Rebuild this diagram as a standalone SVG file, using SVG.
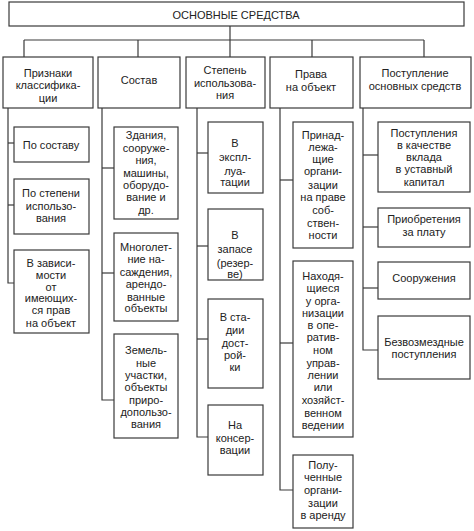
<svg xmlns="http://www.w3.org/2000/svg" width="474" height="531" viewBox="0 0 474 531">
<style>
rect{fill:#fff;stroke:#3a3a3a;stroke-width:1.2}
.c line,.c polyline{stroke:#3a3a3a;stroke-width:1.2;fill:none}
text{font-family:"Liberation Sans",Arial,sans-serif;font-size:11px;fill:#222;text-anchor:middle}
</style>
<rect x="0" y="0" width="474" height="531" style="fill:#fff;stroke:none"/>
<g class="c" id="connectors">
<line x1="230" y1="26" x2="230" y2="40"/>
<line x1="24" y1="40" x2="424" y2="40"/>
<line x1="24" y1="40" x2="24" y2="57"/>
<line x1="138" y1="40" x2="138" y2="57"/>
<line x1="230" y1="40" x2="230" y2="57"/>
<line x1="312" y1="40" x2="312" y2="57"/>
<line x1="424" y1="40" x2="424" y2="57"/>
<polyline points="8,108 8,283 14,283"/>
<line x1="8" y1="143" x2="14" y2="143"/>
<line x1="8" y1="205" x2="14" y2="205"/>
<polyline points="102,108 102,400 114,400"/>
<line x1="102" y1="168" x2="114" y2="168"/>
<line x1="102" y1="273" x2="114" y2="273"/>
<polyline points="197,108 197,437 208,437"/>
<line x1="197" y1="153" x2="208" y2="153"/>
<line x1="197" y1="246" x2="208" y2="246"/>
<line x1="197" y1="339" x2="208" y2="339"/>
<polyline points="280,108 280,490 293,490"/>
<line x1="280" y1="180" x2="293" y2="180"/>
<line x1="280" y1="343" x2="293" y2="343"/>
<polyline points="363,108 363,350 378,350"/>
<line x1="363" y1="155" x2="378" y2="155"/>
<line x1="363" y1="227" x2="378" y2="227"/>
<line x1="363" y1="288" x2="378" y2="288"/>
</g>
<g id="root"><rect x="9" y="2" width="455" height="24"/><text x="236" y="19">ОСНОВНЫЕ СРЕДСТВА</text></g>
<g id="c1"><rect x="3" y="57" width="90" height="51"/><text x="48" y="77">Признаки</text><text x="48" y="89">классифика-</text><text x="48" y="102">ции</text></g>
<g id="c2"><rect x="98" y="57" width="82" height="51"/><text x="139" y="84">Состав</text></g>
<g id="c3"><rect x="186" y="57" width="79" height="51"/><text x="225" y="74">Степень</text><text x="225" y="87">использова-</text><text x="225" y="99">ния</text></g>
<g id="c4"><rect x="270" y="57" width="83" height="51"/><text x="311" y="78">Права</text><text x="311" y="91">на объект</text></g>
<g id="c5"><rect x="360" y="57" width="111" height="51"/><text x="415" y="77">Поступление</text><text x="415" y="90">основных средств</text></g>

<g id="c1a"><rect x="14" y="127" width="75" height="35"/><text x="51" y="149">По составу</text></g>
<g id="c1b"><rect x="14" y="179" width="75" height="55"/><text x="51" y="197">По степени</text><text x="51" y="210">использо-</text><text x="51" y="222">вания</text></g>
<g id="c1c"><rect x="14" y="250" width="75" height="83"/><text x="51" y="267">В зависи-</text><text x="51" y="279">мости</text><text x="51" y="291">от</text><text x="51" y="302">имеющих-</text><text x="51" y="314">ся прав</text><text x="51" y="327">на объект</text></g>

<g id="c2a"><rect x="114" y="127" width="64" height="92"/><text x="146" y="139">Здания,</text><text x="146" y="152">сооруже-</text><text x="146" y="164">ния,</text><text x="146" y="177">машины,</text><text x="146" y="189">оборудо-</text><text x="146" y="201">вание и</text><text x="146" y="214">др.</text></g>
<g id="c2b"><rect x="114" y="233" width="64" height="88"/><text x="146" y="251">Многолет-</text><text x="146" y="263">ние на-</text><text x="146" y="276">саждения,</text><text x="146" y="288">арендо-</text><text x="146" y="301">ванные</text><text x="146" y="312">объекты</text></g>
<g id="c2c"><rect x="114" y="334" width="64" height="104"/><text x="146" y="354">Земель-</text><text x="146" y="367">ные</text><text x="146" y="379">участки,</text><text x="146" y="391">объекты</text><text x="146" y="404">приро-</text><text x="146" y="416">допользо-</text><text x="146" y="428">вания</text></g>

<g id="c3a"><rect x="208" y="122" width="55" height="71"/><text x="235" y="147">В</text><text x="235" y="161">экспл-</text><text x="235" y="175">луа-</text><text x="235" y="186">тации</text></g>
<g id="c3b"><rect x="208" y="209" width="55" height="71"/><text x="235" y="239">В</text><text x="235" y="253">запасе</text><text x="235" y="267">(резер-</text><text x="235" y="278">ве)</text></g>
<g id="c3c"><rect x="208" y="299" width="55" height="89"/><text x="235" y="321">В ста-</text><text x="235" y="334">дии</text><text x="235" y="347">дост-</text><text x="235" y="359">рой-</text><text x="235" y="371">ки</text></g>
<g id="c3d"><rect x="208" y="405" width="55" height="70"/><text x="235" y="429">На</text><text x="235" y="442">консер-</text><text x="235" y="454">вации</text></g>

<g id="c4a"><rect x="293" y="122" width="60" height="126"/><text x="323" y="139">Принад-</text><text x="323" y="151">лежа-</text><text x="323" y="163">щие</text><text x="323" y="175">органи-</text><text x="323" y="189">зации</text><text x="323" y="201">на праве</text><text x="323" y="214">соб-</text><text x="323" y="227">ствен-</text><text x="323" y="239">ности</text></g>
<g id="c4b"><rect x="293" y="261" width="60" height="176"/><text x="323" y="280">Находя-</text><text x="323" y="292">щиеся</text><text x="323" y="305">у орга-</text><text x="323" y="317">низации</text><text x="323" y="329">в опе-</text><text x="323" y="341">ратив-</text><text x="323" y="354">ном</text><text x="323" y="367">управ-</text><text x="323" y="379">лении</text><text x="323" y="391">или</text><text x="323" y="404">хозяйст-</text><text x="323" y="417">венном</text><text x="323" y="429">ведении</text></g>
<g id="c4c"><rect x="293" y="455" width="60" height="73"/><text x="323" y="469">Полу-</text><text x="323" y="481">ченные</text><text x="323" y="494">органи-</text><text x="323" y="507">зации</text><text x="323" y="519">в аренду</text></g>

<g id="c5a"><rect x="378" y="122" width="92" height="70"/><text x="424" y="137">Поступления</text><text x="424" y="149">в качестве</text><text x="424" y="161">вклада</text><text x="424" y="173">в уставный</text><text x="424" y="186">капитал</text></g>
<g id="c5b"><rect x="378" y="208" width="92" height="39"/><text x="424" y="223">Приобретения</text><text x="424" y="236">за плату</text></g>
<g id="c5c"><rect x="378" y="262" width="92" height="37"/><text x="424" y="282">Сооружения</text></g>
<g id="c5d"><rect x="378" y="316" width="92" height="63"/><text x="424" y="346">Безвозмездные</text><text x="424" y="358">поступления</text></g>
</svg>
